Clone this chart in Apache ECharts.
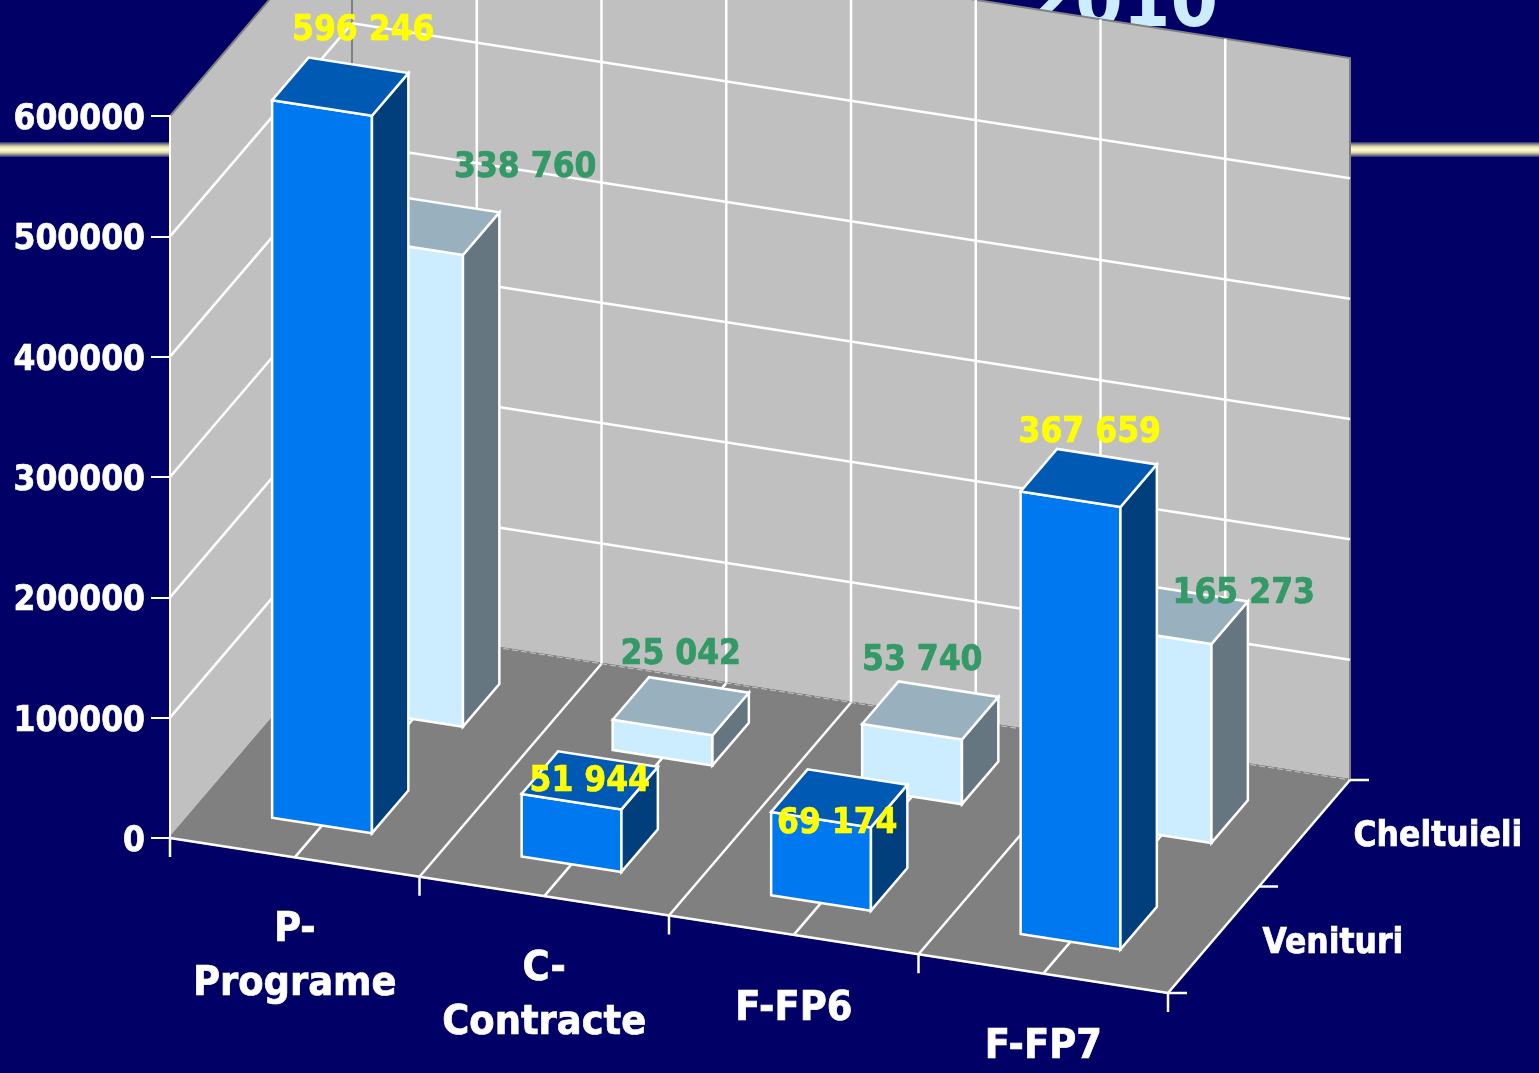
<!DOCTYPE html>
<html>
<head>
<meta charset="utf-8">
<style>
  html, body { margin: 0; padding: 0; background: #000066; }
  #main { width: 1539px; height: 1073px; }
</style>
<script src="https://cdn.jsdelivr.net/npm/echarts@6/dist/echarts.min.js"></script>
</head>
<body>
<div id="main"></div>
<script>
var categories = ["P-\nPrograme", "C-\nContracte", "F-FP6", "F-FP7"];
var depthNames = ["Venituri", "Cheltuieli"];
var venituri = [596246, 51944, 69174, 367659];
// first bar is drawn taller than its printed label in the original
var cheltuieli = [392000, 25042, 53740, 165273];
var venituriLabels = ["596 246", "51 944", "69 174", "367 659"];
var cheltuieliLabels = ["338 760", "25 042", "53 740", "165 273"];
var yTicks = [0, 100000, 200000, 300000, 400000, 500000, 600000];

// hand placed in the original, so every value label has its own nudge from the bar top
var venituriNudge = [[23, -58], [0, 0], [-2, 24], [1, -47]];
var cheltuieliNudge = [[94, -60], [0, -53], [-8, -52], [64, -23]];

var FONT = '"DejaVu Sans Condensed", "DejaVu Sans", sans-serif';
var GRID_LEFT = 170, GRID_TOP = 116, GRID_W = 998, GRID_H = 722;
var SKEW = 155 / 998;
var ROW_DX = 91, ROW_DY = 106.5;
var LINE_W = 2.5;
var TEXT_STROKE = 0.7;

// x in category units (0..4), v on the value axis, d in rows (0..2)
function pt(api, x, v, d) {
  var c = api.coord([0, v]);
  var bw = api.size([1, 0])[0];
  var fx = c[0] + (x - 0.5) * bw;
  return [fx + d * ROW_DX, c[1] + (fx - GRID_LEFT) * SKEW - d * ROW_DY];
}

function renderWalls(params, api) {
  var kids = [];
  var left = [pt(api, 0, 0, 0), pt(api, 0, 0, 2), pt(api, 0, 600000, 2), pt(api, 0, 600000, 0)];
  var back = [pt(api, 0, 0, 2), pt(api, 4, 0, 2), pt(api, 4, 600000, 2), pt(api, 0, 600000, 2)];
  var floor = [pt(api, 0, 0, 0), pt(api, 4, 0, 0), pt(api, 4, 0, 2), pt(api, 0, 0, 2)];
  function poly(points, fill) {
    kids.push({ type: "polygon", shape: { points: points }, style: { fill: fill, stroke: "#808080", lineWidth: 2 } });
  }
  function line(a, b, color, w, dash) {
    kids.push({
      type: "line",
      shape: { x1: a[0], y1: a[1], x2: b[0], y2: b[1] },
      style: { stroke: color || "#fff", lineWidth: w || LINE_W, lineDash: dash }
    });
  }
  poly(left, "#c0c0c0");
  poly(back, "#c0c0c0");
  poly(floor, "#808080");

  yTicks.slice(1, -1).forEach(function(v) {
    line(pt(api, 0, v, 0), pt(api, 0, v, 2));
    line(pt(api, 0, v, 2), pt(api, 4, v, 2));
  });
  // half category lines on back wall and floor
  for (var h = 0.5; h < 4; h += 0.5) {
    line(pt(api, h, 0, 2), pt(api, h, 600000, 2));
    line(pt(api, h, 0, 0), pt(api, h, 0, 2));
  }
  line(pt(api, 0, 0, 2), pt(api, 4, 0, 2), "#c8c8c8", 1, [6, 3]);
  line(pt(api, 0, 0, 0), pt(api, 4, 0, 0));
  line(pt(api, 4, 0, 0), pt(api, 4, 0, 2));
  // ticks
  for (var i = 0; i <= 4; i++) {
    var a = pt(api, i, 0, 0);
    line(a, [a[0], a[1] + 19]);
  }
  for (var r = 0; r <= 2; r++) {
    var b = pt(api, 4, 0, r);
    line(b, [b[0] + 19, b[1]]);
  }
  return { type: "group", children: kids };
}

function barRenderer(row, front, top, side) {
  return function(params, api) {
    var i = api.value(0), v = api.value(1);
    var x0 = i + 0.3, x1 = i + 0.7, d0 = row + 0.3, d1 = row + 0.7;
    function face(points, fill) {
      return {
        type: "polygon",
        shape: { points: points },
        style: { fill: fill, stroke: "#fff", lineWidth: LINE_W, lineJoin: "miter" }
      };
    }
    return {
      type: "group",
      children: [
        face([pt(api, x0, 0, d0), pt(api, x1, 0, d0), pt(api, x1, v, d0), pt(api, x0, v, d0)], front),
        face([pt(api, x1, 0, d0), pt(api, x1, 0, d1), pt(api, x1, v, d1), pt(api, x1, v, d0)], side),
        face([pt(api, x0, v, d0), pt(api, x1, v, d0), pt(api, x1, v, d1), pt(api, x0, v, d1)], top)
      ]
    };
  };
}

function textStyle(text, color, size, align) {
  return {
    text: text, fill: color, font: "bold " + size + "px " + FONT,
    stroke: color, lineWidth: TEXT_STROKE,
    align: align, verticalAlign: "middle", lineHeight: 54
  };
}

function labelRenderer(row, color, labels, nudge) {
  return function(params, api) {
    var i = api.value(0), v = api.value(1);
    var p = pt(api, i + 0.5, v, row + 0.5);
    return {
      type: "text",
      x: p[0] + nudge[i][0],
      y: p[1] + nudge[i][1] + 2,
      style: textStyle(labels[i], color, 35, "center")
    };
  };
}

function renderCategoryText(params, api) {
  var i = api.value(0);
  var p = pt(api, i + 0.5, 0, 0);
  return {
    type: "text",
    x: p[0],
    y: p[1] + (categories[i].indexOf("\n") >= 0 ? 100 : 74),
    style: textStyle(categories[i], "#fff", 41, "center")
  };
}

function renderDepthText(params, api) {
  var r = api.value(0);
  var p = pt(api, 4, 0, r + 0.5);
  return {
    type: "text",
    x: p[0] + 49,
    y: p[1] + 4,
    style: textStyle(depthNames[r], "#fff", 35, "left")
  };
}

var chart = echarts.init(document.getElementById("main"));

function rows(values) {
  return values.map(function(v, i) { return [i, v]; });
}

var option = {
  backgroundColor: "#000066",
  animation: false,
  title: {
    text: "2010",
    right: 316,
    top: -37,
    z: 0,
    textStyle: { color: "#ccecff", fontFamily: FONT, fontWeight: "bold", fontSize: 76 }
  },
  graphic: [
    {
      type: "rect",
      z: 0,
      shape: { x: 0, y: 142, width: 1539, height: 15 },
      style: {
        fill: new echarts.graphic.LinearGradient(0, 0, 0, 1, [
          { offset: 0, color: "#2a2a70" },
          { offset: 0.15, color: "#8a8a90" },
          { offset: 0.32, color: "#e8e4b0" },
          { offset: 0.5, color: "#fdfad0" },
          { offset: 0.68, color: "#e8e4b0" },
          { offset: 0.85, color: "#8a8a90" },
          { offset: 1, color: "#2a2a70" }
        ])
      }
    }
  ],
  grid: { left: GRID_LEFT, top: GRID_TOP, width: GRID_W, height: GRID_H },
  xAxis: {
    type: "category",
    data: categories,
    show: false
  },
  yAxis: {
    type: "value",
    min: 0,
    max: 600000,
    interval: 100000,
    z: 2,
    axisLine: { show: true, lineStyle: { color: "#fff", width: 2 } },
    axisTick: { show: true, length: 19, lineStyle: { color: "#fff", width: 2 } },
    splitLine: { show: false },
    axisLabel: {
      margin: 25,
      formatter: function(v) { return "{t|" + v + "}"; },
      rich: {
        t: {
          color: "#fff", fontFamily: FONT, fontWeight: "bold", fontSize: 35,
          textBorderColor: "#fff", textBorderWidth: TEXT_STROKE,
          padding: [8, 0, 0, 0]
        }
      }
    }
  },
  series: [
    { type: "custom", z: 1, silent: true, renderItem: renderWalls, data: [[0, 0]], clip: false },
    {
      name: "Cheltuieli", type: "custom", z: 3, renderItem: barRenderer(1, "#ccecff", "#99b1bf", "#667680"),
      data: rows(cheltuieli), encode: { x: 0, y: 1 }, clip: false
    },
    {
      name: "Venituri", type: "custom", z: 4, renderItem: barRenderer(0, "#0078f0", "#005ab4", "#003f7b"),
      data: rows(venituri), encode: { x: 0, y: 1 }, clip: false
    },
    { type: "custom", z: 5, silent: true, renderItem: labelRenderer(1, "#339966", cheltuieliLabels, cheltuieliNudge), data: rows(cheltuieli), clip: false },
    { type: "custom", z: 5, silent: true, renderItem: labelRenderer(0, "#ffff00", venituriLabels, venituriNudge), data: rows(venituri), clip: false },
    { type: "custom", z: 5, silent: true, renderItem: renderCategoryText, data: rows([0, 0, 0, 0]), clip: false },
    { type: "custom", z: 5, silent: true, renderItem: renderDepthText, data: rows([0, 0]), clip: false }
  ]
};

chart.setOption(option);
</script>
</body>
</html>
